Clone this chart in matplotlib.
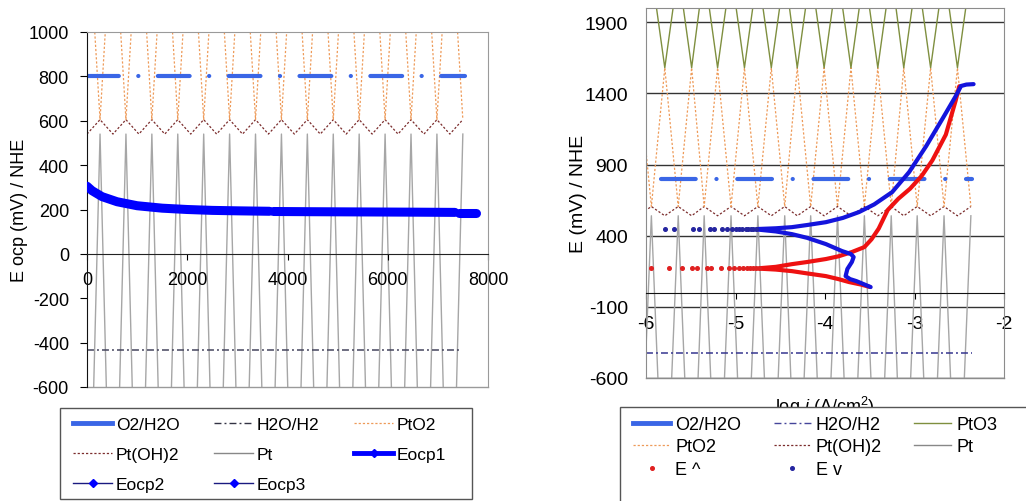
import matplotlib
matplotlib.use("Agg")
import matplotlib.pyplot as plt
from matplotlib.lines import Line2D
from matplotlib.patches import Rectangle

plt.rcParams["font.family"] = ["Liberation Sans", "DejaVu Sans"]
plt.rcParams["lines.scale_dashes"] = False
plt.rcParams["axes.unicode_minus"] = False
plt.rcParams["mathtext.fontset"] = "custom"
plt.rcParams["mathtext.rm"] = "Liberation Sans"
plt.rcParams["mathtext.it"] = "Liberation Sans:italic"

# ── data: left panel (open-circuit potential vs time) ───────────────────────
EOCP1_T = [0, 100, 300, 600, 1000, 1500, 2000, 2500, 3000, 3640]
EOCP1_E = [305, 285, 258, 235, 217, 206, 200, 196, 194, 192]
EOCP2_T = [3720, 4500, 5500, 6500, 7340]
EOCP2_E = [191, 190, 189, 188, 187]
EOCP3_T = [7430, 7600, 7760]
EOCP3_E = [186, 186, 186]

O2_LEFT_T, O2_LEFT_E = [0, 7540], [800, 800]
H2_LEFT_T, H2_LEFT_E = [0, 7480], [-435, -435]

# zigzag vertices (base, tip, base, tip, ...)
ZZ_LEFT_T = [0, 260, 518, 777, 1035, 1294, 1552, 1811, 2069, 2328,
             2586, 2845, 3103, 3362, 3620, 3879, 4137, 4396, 4654, 4913,
             5171, 5430, 5688, 5947, 6205, 6464, 6722, 6981, 7239, 7498]

# ── data: right panel (polarisation curves) ─────────────────────────────────
ZZ_RIGHT_X = [-6.09, -5.94, -5.79, -5.64, -5.49, -5.35, -5.20, -5.05, -4.90,
              -4.75, -4.60, -4.45, -4.31, -4.16, -4.01, -3.86, -3.71, -3.56,
              -3.41, -3.26, -3.12, -2.97, -2.82, -2.67, -2.52, -2.37]

O2_RIGHT_X, O2_RIGHT_E = [-5.83, -2.36], [800, 800]
H2_RIGHT_X, H2_RIGHT_E = [-6.0, -2.36], [-425, -425]

# level of the zigzag at the base points and at the tips (mV)
PT_LEVELS = (-1800, 540)
PTOH2_LEVELS = (540, 605)
PTO2_LEVELS = (1580, 605)
PTO3_LEVELS = (1580, 2260)

EUP_DOT_X = [-5.94, -5.74, -5.60, -5.49, -5.43, -5.32, -5.27, -5.16, -5.07,
             -5.02, -4.96, -4.92, -4.87, -4.84, -4.80, -4.77, -4.74]
EUP_DOT_E = [170, 170, 170, 170, 170, 170, 170, 170, 170,
             170, 170, 170, 170, 170, 170, 170, 170]
EUP_CATH_X = [-4.72, -4.55, -4.37, -4.20, -3.99, -3.85, -3.73, -3.60, -3.50]
EUP_CATH_E = [168, 162, 151, 135, 116, 95, 74, 57, 40]
EUP_ANOD_X = [-4.72, -4.55, -4.37, -4.20, -3.99, -3.85, -3.70, -3.56, -3.48,
              -3.40, -3.30, -3.18, -3.05, -2.92, -2.80, -2.65, -2.54, -2.50]
EUP_ANOD_E = [172, 181, 200, 215, 236, 255, 285, 320, 375,
              450, 580, 660, 730, 820, 930, 1110, 1350, 1450]

EV_DOT_X = [-5.79, -5.69, -5.47, -5.41, -5.28, -5.24, -5.15, -5.10, -5.04,
            -5.00, -4.96, -4.93, -4.88, -4.86, -4.83, -4.80, -4.77]
EV_DOT_E = [445, 445, 445, 445, 445, 445, 445, 445, 445,
            445, 445, 445, 445, 445, 445, 445, 445]
EV_ANOD_X = [-4.75, -4.55, -4.37, -4.20, -3.99, -3.80, -3.62, -3.45, -3.25,
             -3.06, -2.87, -2.69, -2.54, -2.48, -2.42, -2.34]
EV_ANOD_E = [447, 452, 460, 475, 495, 525, 566, 620, 706,
             847, 1029, 1219, 1380, 1452, 1462, 1465]
EV_CATH_X = [-4.75, -4.55, -4.37, -4.20, -3.99, -3.81, -3.71, -3.68, -3.70,
             -3.75, -3.77, -3.72, -3.65, -3.57, -3.49]
EV_CATH_E = [443, 430, 411, 385, 341, 292, 271, 250, 215,
             166, 116, 95, 81, 60, 39]

# ── styles ──────────────────────────────────────────────────────────────────
C_O2 = "#3a66e6"
C_PT = "#a6a6a6"
C_PTOH2 = "#7b2c2c"
C_PTO2 = "#ee9a58"
C_PTO3 = "#7f8f3f"
C_EOCP = "#0000ff"
C_RED = "#ee1111"
C_BLUE = "#1414dc"

O2_DASH_L = (0, (22.9, 14.0, 0.1, 14.0))
O2_DASH_R = (0, (25.0, 14.9, 0.1, 14.9))
H2_DASH = (0, (5.0, 2.2, 1.4, 2.2))
DOTTED = (0, (1.6, 1.4))

W, H = 1026, 502
fig = plt.figure(figsize=(W / 100, H / 100), dpi=100)


def px_box(x0, y0, x1, y1):
    return [x0 / W, 1 - y1 / H, (x1 - x0) / W, (y1 - y0) / H]


def zigzag(n, levels):
    base, tip = levels
    return [base if i % 2 == 0 else tip for i in range(n)]


def draw_zigzags(ax, xs, with_pto3=False):
    n = len(xs)
    ax.plot(xs, zigzag(n, PT_LEVELS), color=C_PT, lw=1.0, zorder=1)
    ax.plot(xs, zigzag(n, PTOH2_LEVELS), color=C_PTOH2, lw=0.9, ls=DOTTED, zorder=1)
    ax.plot(xs, zigzag(n, PTO2_LEVELS), color=C_PTO2, lw=0.9, ls=DOTTED, zorder=1)
    if with_pto3:
        ax.plot(xs, zigzag(n, PTO3_LEVELS), color=C_PTO3, lw=1.0, zorder=1)


# ── left panel ──────────────────────────────────────────────────────────────
ax1 = fig.add_axes(px_box(87, 33, 488, 388))
draw_zigzags(ax1, ZZ_LEFT_T)
ax1.plot(O2_LEFT_T, O2_LEFT_E, color=C_O2, lw=3, ls=O2_DASH_L,
         dash_capstyle="round", zorder=2)
ax1.plot(H2_LEFT_T, H2_LEFT_E, color="#45455e", lw=1.1, ls=H2_DASH, zorder=2)
for t, e in [(EOCP1_T, EOCP1_E), (EOCP2_T, EOCP2_E), (EOCP3_T, EOCP3_E)]:
    ax1.plot(t, e, color=C_EOCP, lw=6.5, solid_capstyle="round", zorder=4)

ax1.set_xlim(0, 8000)
ax1.set_ylim(-600, 1000)
ax1.set_xticks(range(0, 8001, 2000))
ax1.set_yticks(range(-600, 1001, 200))
ax1.spines["bottom"].set_position(("data", 0))
ax1.spines["bottom"].set_color("#222222")
ax1.spines["left"].set_color("#111111")
for s in ("top", "right"):
    ax1.spines[s].set_color("#9a9a9a")
ax1.plot([0, 1], [0, 0], transform=ax1.transAxes, color="#9a9a9a", lw=1,
         clip_on=False)
ax1.tick_params(axis="y", direction="out", length=5, pad=8, labelsize=13)
ax1.tick_params(axis="x", direction="out", length=4, pad=8, labelsize=13)
ax1.set_ylabel("E ocp (mV) / NHE", fontsize=13)
ax1.yaxis.set_label_coords(-0.147, 0.5)

# ── right panel ─────────────────────────────────────────────────────────────
ax2 = fig.add_axes(px_box(646, 9, 1004, 379))
ax2.set_axisbelow(True)
ax2.yaxis.grid(True, color="#333333", lw=1)
draw_zigzags(ax2, ZZ_RIGHT_X, with_pto3=True)
ax2.plot(O2_RIGHT_X, O2_RIGHT_E, color=C_O2, lw=3, ls=O2_DASH_R,
         dash_capstyle="round", zorder=2)
ax2.plot(H2_RIGHT_X, H2_RIGHT_E, color="#35358f", lw=1.1, ls=H2_DASH, zorder=2)

ax2.plot(EUP_CATH_X, EUP_CATH_E, color=C_RED, lw=3, solid_capstyle="round", zorder=3)
ax2.plot(EUP_ANOD_X, EUP_ANOD_E, color=C_RED, lw=3, solid_capstyle="round", zorder=3)
ax2.plot(EUP_DOT_X, EUP_DOT_E, ls="none", marker="o", ms=2.6, color="#e02020",
         zorder=3)
ax2.plot(EV_CATH_X, EV_CATH_E, color=C_BLUE, lw=3, solid_capstyle="round", zorder=4)
ax2.plot(EV_ANOD_X, EV_ANOD_E, color=C_BLUE, lw=3, solid_capstyle="round", zorder=4)
ax2.plot(EV_DOT_X, EV_DOT_E, ls="none", marker="o", ms=2.6, color="#2525a0",
         zorder=4)

ax2.set_xlim(-6, -2)
ax2.set_ylim(-600, 2000)
ax2.set_xticks(range(-6, -1))
ax2.set_yticks(range(-600, 2000, 500))
for s in ("top", "right", "left"):
    ax2.spines[s].set_color("#8c8c8c")
ax2.spines["bottom"].set_position(("data", 0))
ax2.spines["bottom"].set_color("#111111")
ax2.plot([0, 1], [0, 0], transform=ax2.transAxes, color="#8c8c8c", lw=1,
         clip_on=False)
ax2.tick_params(axis="y", length=0, pad=13, labelsize=14)
ax2.tick_params(axis="x", direction="out", length=4, pad=12, labelsize=14)
ax2.set_ylabel("E (mV) / NHE", fontsize=14)
ax2.yaxis.set_label_coords(-0.165, 0.5)
ax2.set_xlabel(r"log $i$ (A/cm$^2$)", fontsize=13)
ax2.xaxis.set_label_coords(0.5, -0.043)

# ── legends (frames drawn as figure patches so the right one runs off-page) ─
fig.patches.append(Rectangle((60 / W, 1 - 500 / H), 412 / W, 91 / H,
                             transform=fig.transFigure, facecolor="white",
                             edgecolor="#555555", lw=1, zorder=1))
fig.patches.append(Rectangle((620 / W, 1 - 520 / H), 420 / W, 112 / H,
                             transform=fig.transFigure, facecolor="white",
                             edgecolor="#555555", lw=1, zorder=1))

h_o2 = Line2D([], [], color=C_O2, lw=3.5)
h_h2_l = Line2D([], [], color="#333344", lw=1.0, ls=H2_DASH)
h_h2_r = Line2D([], [], color="#45459a", lw=1.0, ls=H2_DASH)
h_pto2 = Line2D([], [], color=C_PTO2, lw=0.9, ls=DOTTED)
h_ptoh2 = Line2D([], [], color=C_PTOH2, lw=0.9, ls=DOTTED)
h_pt = Line2D([], [], color="#888888", lw=1.0)
h_pto3 = Line2D([], [], color=C_PTO3, lw=1.0)
h_e1 = Line2D([], [], color=C_EOCP, lw=3.5, marker="D", ms=4.5)
h_e2 = Line2D([], [], color="#1a1a80", lw=1.0, marker="D", ms=4.5,
              mfc=C_EOCP, mec=C_EOCP)
h_e3 = Line2D([], [], color="#1a1a80", lw=1.0, marker="D", ms=4.5,
              mfc=C_EOCP, mec=C_EOCP)
h_up = Line2D([], [], ls="none", marker="o", ms=2.6, color="#e02020")
h_dn = Line2D([], [], ls="none", marker="o", ms=2.6, color="#2525a0")

# matplotlib fills legend columns first, so items are listed column by column
fig.legend([h_o2, h_ptoh2, h_e2, h_h2_l, h_pt, h_e3, h_pto2, h_e1],
           ["O2/H2O", "Pt(OH)2", "Eocp2", "H2O/H2", "Pt", "Eocp3", "PtO2", "Eocp1"],
           loc="upper left", bbox_to_anchor=(73 / W, 1 - 418 / H),
           ncol=3, frameon=False, fontsize=12.5, handlelength=2.26,
           handletextpad=0.2, columnspacing=2.0, labelspacing=0.84,
           borderpad=0, borderaxespad=0)
fig.legend([h_o2, h_pto2, h_up, h_h2_r, h_ptoh2, h_dn, h_pto3, h_pt],
           ["O2/H2O", "PtO2", "E ^", "H2O/H2", "Pt(OH)2", "E v", "PtO3", "Pt"],
           loc="upper left", bbox_to_anchor=(633 / W, 1 - 417 / H),
           ncol=3, frameon=False, fontsize=13, handlelength=2.05,
           handletextpad=0.28, columnspacing=1.8, labelspacing=0.3,
           borderpad=0, borderaxespad=0)

fig.savefig("out.png", dpi=100)
